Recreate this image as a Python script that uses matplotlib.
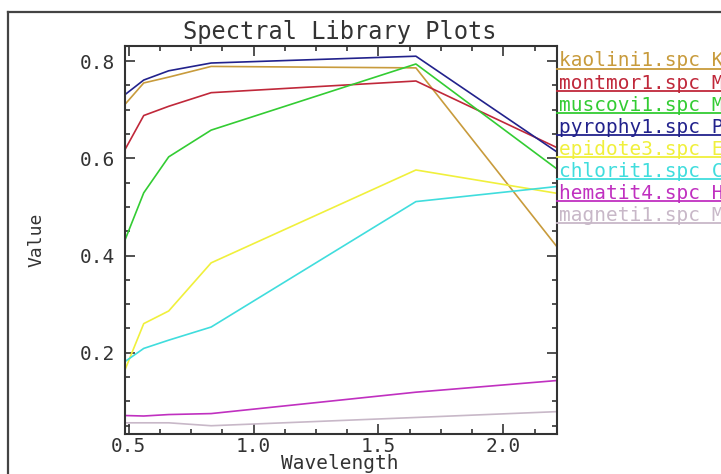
import matplotlib
matplotlib.use('Agg')
import matplotlib.pyplot as plt
from matplotlib.lines import Line2D
from matplotlib.ticker import MultipleLocator

# Landsat TM band centres (micrometres)
wavelength = [0.485, 0.56, 0.66, 0.83, 1.65, 2.215]

kaolini = [0.711, 0.755, 0.767, 0.789, 0.786, 0.418]
montmor = [0.618, 0.688, 0.707, 0.735, 0.759, 0.622]
muscovi = [0.432, 0.529, 0.603, 0.658, 0.794, 0.578]
pyrophy = [0.731, 0.761, 0.780, 0.796, 0.810, 0.613]
epidote = [0.165, 0.260, 0.286, 0.385, 0.576, 0.528]
chlorit = [0.182, 0.209, 0.226, 0.253, 0.511, 0.542]
hematit = [0.071, 0.070, 0.073, 0.075, 0.119, 0.143]
magneti = [0.056, 0.056, 0.056, 0.050, 0.067, 0.079]

names = ["kaolini1.spc Kaolinite CM9", "montmor1.spc Montmorillonite",
         "muscovi1.spc Muscovite", "pyrophy1.spc Pyrophyllite",
         "epidote3.spc Epidote", "chlorit1.spc Chlorite",
         "hematit4.spc Hematite", "magneti1.spc Magnetite"]
series = [kaolini, montmor, muscovi, pyrophy, epidote, chlorit, hematit, magneti]
colors = ["#C89B3C", "#C0283A", "#33CC33", "#22228C",
          "#F0F03C", "#40DDDD", "#C030C0", "#C8B8C8"]

plt.rcParams['font.family'] = ['DejaVu Sans Mono', 'DejaVu Sans']
TXT = "#333333"

W, H = 721, 474
fig = plt.figure(figsize=(W / 100, H / 100), dpi=100)
fig.patch.set_facecolor("white")

# outer frame (only left and top edges fall inside the picture)
fig.add_artist(Line2D([8 / W, 8 / W], [0, 1 - 12 / H], color="#444444", lw=1.6))
fig.add_artist(Line2D([8 / W, 1], [1 - 12 / H, 1 - 12 / H], color="#444444", lw=1.6))

ax = fig.add_axes([125 / W, 40 / H, 432 / W, 388 / H])
for y, c in zip(series, colors):
  ax.plot(wavelength, y, color=c, lw=1.2)

ax.set_xlim(0.485, 2.215)
ax.set_ylim(0.033, 0.831)
ax.xaxis.set_major_locator(MultipleLocator(0.5))
ax.xaxis.set_minor_locator(MultipleLocator(0.125))
ax.yaxis.set_major_locator(MultipleLocator(0.2))
ax.yaxis.set_minor_locator(MultipleLocator(0.05))
ax.xaxis.set_major_formatter(lambda v, p: f"{v:.1f}")
ax.yaxis.set_major_formatter(lambda v, p: f"{v:.1f}")
ax.tick_params(which="both", direction="in", top=True, right=True,
               colors="#333333", labelcolor=TXT, labelsize=14, width=1.2)
ax.tick_params(which="major", length=7)
ax.tick_params(which="minor", length=3.5)
ax.tick_params(axis="x", pad=2)
ax.tick_params(axis="y", pad=7)
for s in ax.spines.values():
  s.set_color("#333333")
  s.set_linewidth(1.5)

fig.text(340 / W, 1 - 469 / H, "Wavelength", fontsize=14, color=TXT,
         ha="center", va="baseline")
fig.text(36 / W, 1 - 240 / H, "Value", fontsize=13, color=TXT,
         ha="center", va="center", rotation=90)
fig.text(340 / W, 1 - 32 / H, "Spectral Library Plots", fontsize=17,
         color=TXT, ha="center", va="center")

# legend: coloured names with underline to the right of the plot
for i, (n, c) in enumerate(zip(names, colors)):
  yb = 66.5 + i * 22.1
  fig.text(559 / W, 1 - yb / H, n, color=c, fontsize=14, ha="left", va="baseline")
  fig.add_artist(Line2D([557 / W, 1], [1 - (yb + 2) / H] * 2, color=c, lw=1.3))

fig.savefig("out.png", dpi=100)
plt.close(fig)
